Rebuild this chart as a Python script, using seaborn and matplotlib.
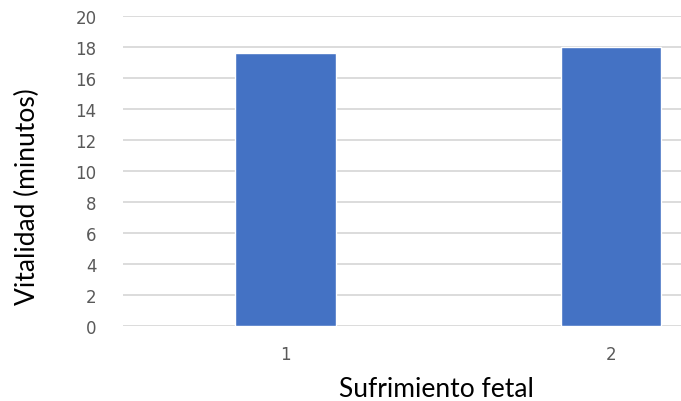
import matplotlib
matplotlib.use("Agg")
import matplotlib.pyplot as plt
import seaborn as sns
import pandas as pd

# Data
categorias = ["1", "2"]
vitalidad = [17.6, 18.0]
yticks = [0, 2, 4, 6, 8, 10, 12, 14, 16, 18, 20]

df = pd.DataFrame({"grupo": categorias, "vitalidad": vitalidad})

sns.set_theme(style="white")
plt.rcParams["font.family"] = ["DejaVu Sans"]

fig = plt.figure(figsize=(6.81, 4.02), dpi=100)
ax = fig.add_axes([0.1806, 0.1866, 0.8194, 0.7703])

sns.barplot(data=df, x="grupo", y="vitalidad", color="#4472C4",
            saturation=1, width=0.31, ax=ax, zorder=3)

ax.set_xlim(-0.5, 1.215)
ax.set_ylim(0, 20)
ax.set_yticks(yticks)
ax.set_yticklabels([str(t) for t in yticks])
ax.yaxis.grid(True, color="#D9D9D9", linewidth=1.3, zorder=0)
ax.set_axisbelow(True)
for s in ax.spines.values():
    s.set_visible(False)
ax.tick_params(axis="both", length=0, labelsize=12, labelcolor="#595959")
ax.tick_params(axis="y", pad=19)
ax.tick_params(axis="x", pad=14)

ax.set_xlabel("Sufrimiento fetal", fontsize=19, family="Lato", color="black")
ax.set_ylabel("Vitalidad (minutos)", fontsize=19, family="Lato", color="black")
ax.xaxis.set_label_coords(0.561, -0.161)
ax.yaxis.set_label_coords(-0.148, 0.42)

fig.savefig("out.png", dpi=100)
